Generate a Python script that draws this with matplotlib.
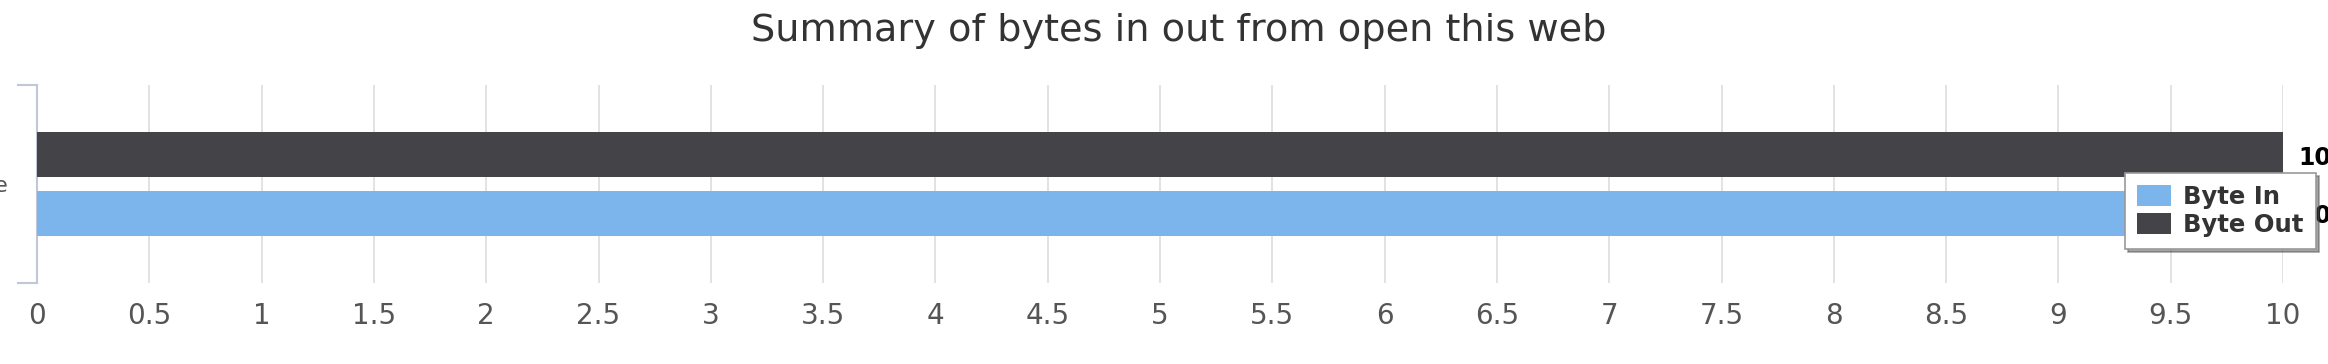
import numpy as np
import matplotlib.pyplot as plt

categories = ["Website"]
byte_in = [10]
byte_out = [10]
series_names = ["Byte In", "Byte Out"]
series_colors = ["#7cb5ec", "#434348"]
x_ticks = np.arange(0, 10.5, 0.5)
x_ticklabels = ["%g" % t for t in x_ticks]

fig = plt.figure(figsize=(23.28, 3.64), dpi=100)
ax = fig.add_axes([0.0159, 0.2225, 0.9648, 0.544])

y = np.arange(len(categories))
h = 0.227
off = 0.147
# Byte Out sits above Byte In in the reference
b_out = ax.barh(y + off, byte_out, height=h, color=series_colors[1], label=series_names[1], zorder=3)
b_in = ax.barh(y - off, byte_in, height=h, color=series_colors[0], label=series_names[0], zorder=3)

# data labels, bold, right of bar end
for bars, vals in [(b_in, byte_in), (b_out, byte_out)]:
    for r, v in zip(bars, vals):
        ax.annotate(str(v), (r.get_width(), r.get_y() + r.get_height() / 2),
                    xytext=(15, -3), textcoords="offset pixels", ha="left", va="center",
                    fontsize=17, fontweight="bold", color="black", annotation_clip=False, zorder=4)

ax.set_xlim(0, 10)
ax.set_ylim(-0.5, 0.5)
ax.set_xticks(x_ticks)
ax.set_xticklabels(x_ticklabels)
ax.set_yticks(y)
ax.set_yticklabels(categories)
ax.tick_params(axis="x", length=0, pad=14, labelsize=20, labelcolor="#555555")
ax.tick_params(axis="y", length=0, pad=21, labelsize=16, labelcolor="#555555")
ax.grid(axis="x", color="#dddddd", linewidth=1.2, zorder=0)

for s in ["top", "right", "bottom"]:
    ax.spines[s].set_visible(False)
ax.spines["left"].set_color("#c0c8d8")
ax.spines["left"].set_linewidth(1.5)
# category boundary ticks on the y axis
for yb in [-0.5, 0.5]:
    ax.plot([-0.085, 0], [yb, yb], color="#c0c8d8", lw=1.5, clip_on=False, zorder=2)

fig.text(0.5065, 0.914, "Summary of bytes in out from open this web", ha="center", va="center",
         fontsize=27.5, color="#333333")

leg = fig.legend(handles=[b_in, b_out], loc="upper left", bbox_to_anchor=(0.9128, 0.5247),
                 bbox_transform=fig.transFigure, borderaxespad=0, frameon=True, fancybox=False,
                 shadow=True, prop={"weight": "bold", "size": 17.5}, handlelength=1.4,
                 handleheight=0.95, handletextpad=0.5, labelspacing=0.15, borderpad=0.5)
leg.get_frame().set_edgecolor("#999999")
leg.get_frame().set_linewidth(1.2)
leg.set_zorder(10)
for t in leg.get_texts():
    t.set_color("#333333")

fig.savefig("out.png", dpi=100)
